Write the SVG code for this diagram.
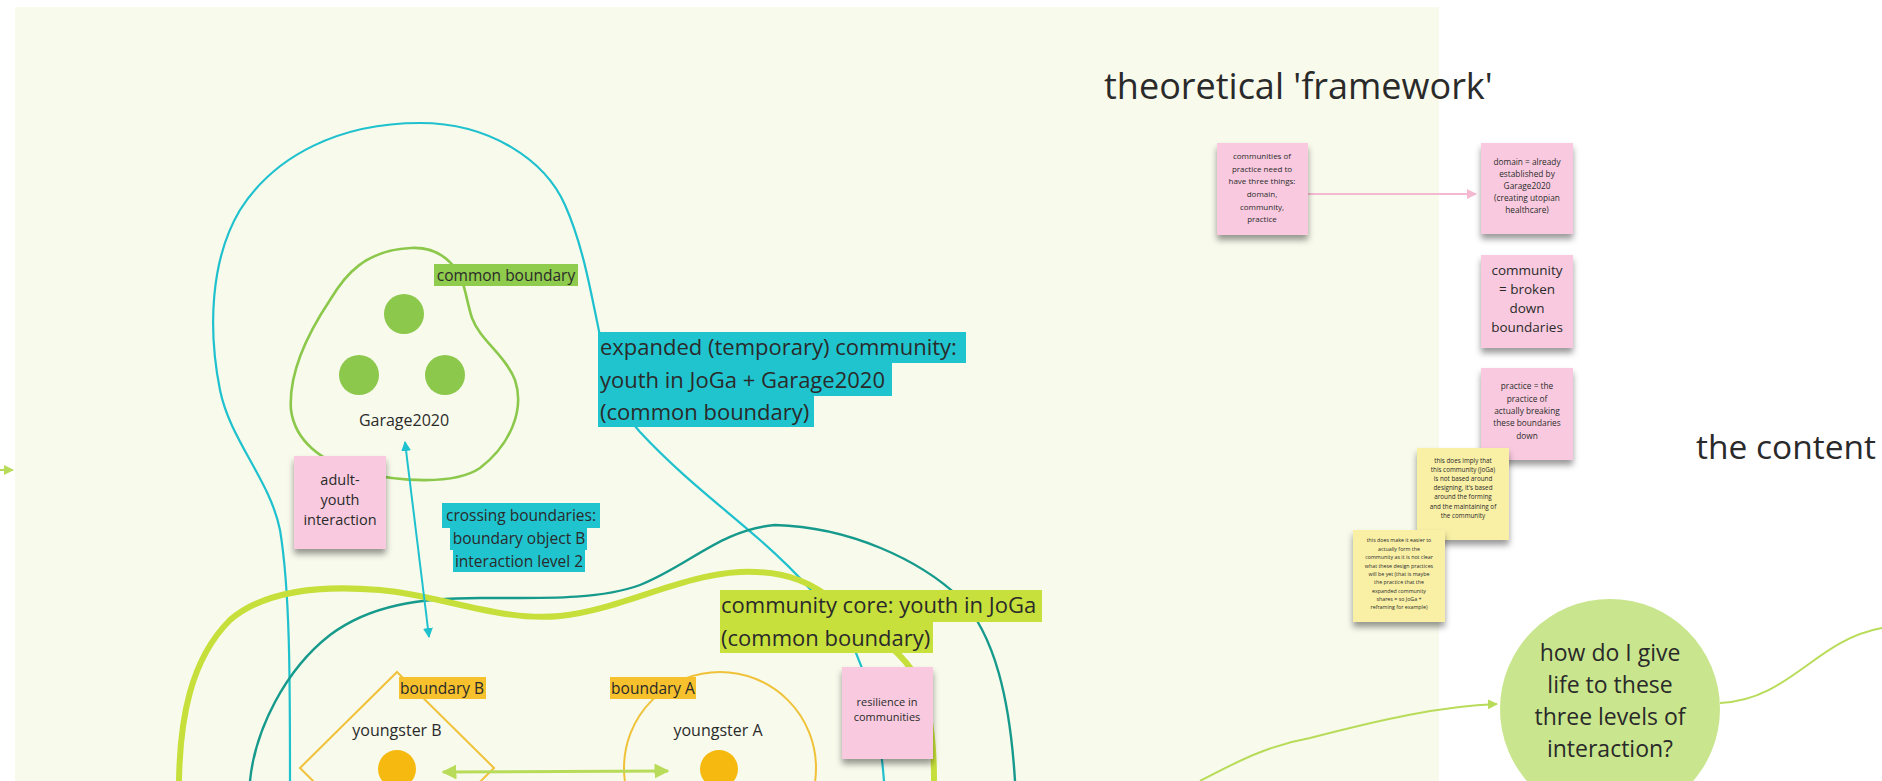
<svg xmlns="http://www.w3.org/2000/svg" width="1882" height="781" viewBox="0 0 1882 781">
<defs>
<style>
.t{font-family:"Open Sans","Noto Sans","Liberation Sans",sans-serif;fill:#2a2a2a}
.pk{fill:#f9cadf}
.yl{fill:#f9f0a6}
.sh{filter:url(#shadow)}
.cyl{fill:none;stroke:#1ec1cd;stroke-width:2.2}
.lbc{fill:#20c4cf}
.lbl{fill:#c8e03c}
.lbg{fill:#8fcb4c}
.lby{fill:#f6c12c}
</style>
<filter id="shadow" x="-20%" y="-20%" width="140%" height="150%">
<feDropShadow dx="0" dy="5" stdDeviation="3" flood-color="#000" flood-opacity="0.4"/>
</filter>
<marker id="cyanA" viewBox="0 0 10 10" refX="9" refY="5" markerWidth="5" markerHeight="5" orient="auto-start-reverse" markerUnits="strokeWidth">
<path d="M0,0 L10,5 L0,10 Z" fill="#1ec1cd"/>
</marker>
<marker id="limeA" viewBox="0 0 10 10" refX="9" refY="5" markerWidth="5" markerHeight="5" orient="auto-start-reverse" markerUnits="strokeWidth">
<path d="M0,0 L10,5 L0,10 Z" fill="#b8dc5a"/>
</marker>
<marker id="pinkA" viewBox="0 0 10 10" refX="9" refY="5" markerWidth="5" markerHeight="5" orient="auto" markerUnits="strokeWidth">
<path d="M0,0 L10,5 L0,10 Z" fill="#f4b8d0"/>
</marker>
</defs>

<rect x="0" y="0" width="1882" height="781" fill="#ffffff"/>
<rect id="panel" x="15" y="7" width="1424" height="780" fill="#f8faec"/>

<g id="connectors">
<path class="cyl" d="M290,781 C290,680 290,590 280,530 C270,480 230,440 220,390 C208,330 210,260 240,210 C275,155 340,123 420,123 C490,123 545,160 565,205 C585,250 592,300 605,360 C615,400 625,415 640,432 C680,475 720,505 760,540 C800,575 830,610 850,640 C870,680 880,730 884,781"/>
<path d="M250,781 C255,730 285,670 330,635 C370,605 420,598 480,598 C540,598 600,600 640,585 C690,565 720,530 775,525 C850,527 920,560 960,598 C995,635 1010,700 1015,781" fill="none" stroke="#169a8c" stroke-width="2.4"/>
<path d="M179,781 C180,720 190,660 230,620 C265,590 320,585 380,590 C440,595 500,622 560,616 C620,610 680,575 740,572 C790,570 815,585 840,605 C870,630 900,650 915,675 C930,700 934,740 934,781" fill="none" stroke="#c6df3a" stroke-width="6" stroke-linecap="round"/>
<path d="M411,248 C430,247 445,255 455,268 C465,280 466,300 472,318 C480,340 505,355 515,380 C525,410 510,445 480,468 C455,485 400,482 360,472 C320,462 295,440 291,410 C288,370 310,330 330,300 C345,275 365,250 411,248 Z" fill="none" stroke="#8cc84b" stroke-width="2.6"/>
<polygon points="397,672 494,768 397,864 300,768" fill="none" stroke="#f0c23a" stroke-width="2"/>
<circle cx="720" cy="768" r="96" fill="none" stroke="#f0c23a" stroke-width="2"/>
<line x1="405" y1="442" x2="429" y2="637" stroke="#1ec1cd" stroke-width="2" marker-start="url(#cyanA)" marker-end="url(#cyanA)"/>
<line x1="443" y1="772" x2="668" y2="771" stroke="#b8dc5a" stroke-width="3" marker-start="url(#limeA)" marker-end="url(#limeA)"/>
<line x1="1308" y1="194" x2="1476" y2="194" stroke="#f4b8d0" stroke-width="2" marker-end="url(#pinkA)"/>
<path d="M1200,781 C1240,760 1270,745 1310,738 C1380,720 1440,706 1497,704" fill="none" stroke="#b8dc5a" stroke-width="2" marker-end="url(#limeA)"/>
<path d="M1720,703 C1790,700 1815,640 1882,628" fill="none" stroke="#b8dc5a" stroke-width="2"/>
<line x1="-5" y1="470" x2="13" y2="470" stroke="#b8dc5a" stroke-width="2" marker-end="url(#limeA)"/>
</g>

<g id="garage-dots">
<circle cx="404" cy="314" r="20" fill="#8cc84b"/>
<circle cx="359" cy="375" r="20" fill="#8cc84b"/>
<circle cx="445" cy="375" r="20" fill="#8cc84b"/>
</g>
<g id="garage2020"><text class="t" x="404" y="426" font-size="16" text-anchor="middle" fill="#444">Garage2020</text></g>

<g id="label-common-boundary">
<rect class="lbg" x="434" y="264" width="144" height="22"/>
<text class="t" x="506" y="281" font-size="15.5" text-anchor="middle">common boundary</text>
</g>

<g id="label-expanded">
<rect class="lbc" x="598" y="332" width="368" height="31"/>
<rect class="lbc" x="598" y="363" width="294" height="33"/>
<rect class="lbc" x="598" y="396" width="216" height="31"/>
<text class="t" font-size="22"><tspan x="600" y="355">expanded (temporary) community:</tspan><tspan x="600" y="388">youth in JoGa + Garage2020</tspan><tspan x="600" y="420">(common boundary)</tspan></text>
</g>

<g id="label-crossing">
<rect class="lbc" x="442" y="503" width="158" height="25"/>
<rect class="lbc" x="450" y="528" width="137" height="22"/>
<rect class="lbc" x="453" y="550" width="132" height="22"/>
<text class="t" font-size="15.5" text-anchor="middle"><tspan x="521" y="521">crossing boundaries:</tspan><tspan x="519" y="544">boundary object B</tspan><tspan x="519" y="567">interaction level 2</tspan></text>
</g>

<g id="label-core">
<rect class="lbl" x="720" y="590" width="322" height="32"/>
<rect class="lbl" x="720" y="622" width="213" height="31"/>
<text class="t" font-size="22"><tspan x="721" y="613">community core: youth in JoGa</tspan><tspan x="721" y="646">(common boundary)</tspan></text>
</g>

<g id="youngster-b">
<circle cx="397" cy="769" r="19" fill="#f5b90f"/>
<rect class="lby" x="399" y="677" width="87" height="22"/>
<text class="t" x="442" y="694" font-size="15.5" text-anchor="middle">boundary B</text>
<text class="t" x="397" y="736" font-size="16" text-anchor="middle" fill="#444">youngster B</text>
</g>

<g id="youngster-a">
<circle cx="719" cy="769" r="19" fill="#f5b90f"/>
<rect class="lby" x="610" y="677" width="86" height="22"/>
<text class="t" x="653" y="694" font-size="15.5" text-anchor="middle">boundary A</text>
<text class="t" x="718" y="736" font-size="16" text-anchor="middle" fill="#444">youngster A</text>
</g>

<g id="note-adult-youth">
<rect class="pk sh" x="294" y="456" width="92" height="93"/>
<text class="t" font-size="14.5" text-anchor="middle" fill="#3a3a3a"><tspan x="340" y="485">adult-</tspan><tspan x="340" y="505">youth</tspan><tspan x="340" y="525">interaction</tspan></text>
</g>

<g id="note-resilience">
<rect class="pk sh" x="842" y="667" width="91" height="92"/>
<text class="t" font-size="11" text-anchor="middle" fill="#444"><tspan x="887" y="706">resilience in</tspan><tspan x="887" y="721">communities</tspan></text>
</g>

<g id="title-framework"><text class="t" x="1104" y="99" font-size="36" fill="#222">theoretical 'framework'</text></g>
<g id="title-content"><text class="t" x="1696" y="459" font-size="33.5" fill="#222">the content</text></g>

<g id="note-cop">
<rect class="pk sh" x="1217" y="143" width="91" height="92"/>
<text class="t" font-size="8" text-anchor="middle" fill="#444"><tspan x="1262" y="159">communities of</tspan><tspan x="1262" y="172">practice need to</tspan><tspan x="1262" y="184">have three things:</tspan><tspan x="1262" y="197">domain,</tspan><tspan x="1262" y="210">community,</tspan><tspan x="1262" y="222">practice</tspan></text>
</g>

<g id="note-domain">
<rect class="pk sh" x="1481" y="143" width="92" height="91"/>
<text class="t" font-size="8.3" text-anchor="middle" fill="#444"><tspan x="1527" y="165">domain = already</tspan><tspan x="1527" y="177">established by</tspan><tspan x="1527" y="189">Garage2020</tspan><tspan x="1527" y="201">(creating utopian</tspan><tspan x="1527" y="213">healthcare)</tspan></text>
</g>

<g id="note-community">
<rect class="pk sh" x="1481" y="255" width="92" height="93"/>
<text class="t" font-size="13.5" text-anchor="middle" fill="#3a3a3a"><tspan x="1527" y="275">community</tspan><tspan x="1527" y="294">= broken</tspan><tspan x="1527" y="313">down</tspan><tspan x="1527" y="332">boundaries</tspan></text>
</g>

<g id="note-practice">
<rect class="pk sh" x="1481" y="368" width="92" height="92"/>
<text class="t" font-size="8.3" text-anchor="middle" fill="#444"><tspan x="1527" y="389">practice = the</tspan><tspan x="1527" y="402">practice of</tspan><tspan x="1527" y="414">actually breaking</tspan><tspan x="1527" y="426">these boundaries</tspan><tspan x="1527" y="439">down</tspan></text>
</g>

<g id="note-imply">
<rect class="yl sh" x="1417" y="448" width="92" height="92"/>
<text class="t" font-size="6.3" text-anchor="middle" fill="#555"><tspan x="1463" y="463">this does imply that</tspan><tspan x="1463" y="472">this community (JoGa)</tspan><tspan x="1463" y="481">is not based around</tspan><tspan x="1463" y="490">designing, it's based</tspan><tspan x="1463" y="499">around the forming</tspan><tspan x="1463" y="509">and the maintaining of</tspan><tspan x="1463" y="518">the community</tspan></text>
</g>

<g id="note-easier">
<rect class="yl sh" x="1353" y="530" width="92" height="92"/>
<text class="t" font-size="5.3" text-anchor="middle" fill="#555"><tspan x="1399" y="542">this does make it easier to</tspan><tspan x="1399" y="551">actually form the</tspan><tspan x="1399" y="559">community as it is not clear</tspan><tspan x="1399" y="568">what these design practices</tspan><tspan x="1399" y="576">will be yet (that is maybe</tspan><tspan x="1399" y="584">the practice that the</tspan><tspan x="1399" y="593">expanded community</tspan><tspan x="1399" y="601">shares = so JoGa +</tspan><tspan x="1399" y="609">reframing for example)</tspan></text>
</g>

<g id="question">
<circle cx="1610" cy="709" r="110" fill="#c9e68e"/>
<text class="t" font-size="23" text-anchor="middle" fill="#222"><tspan x="1610" y="661">how do I give</tspan><tspan x="1610" y="693">life to these</tspan><tspan x="1610" y="725">three levels of</tspan><tspan x="1610" y="757">interaction?</tspan></text>
</g>
</svg>
